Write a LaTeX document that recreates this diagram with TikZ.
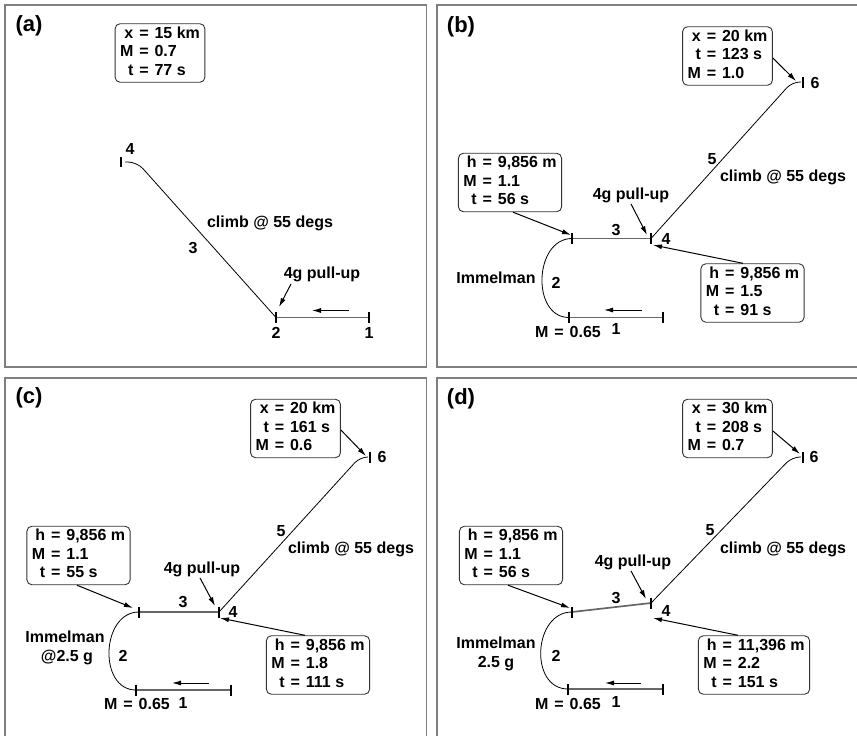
\documentclass[tikz,border=0pt]{standalone}
\usepackage{fontspec}
\setmainfont{Liberation Sans}
\usetikzlibrary{arrows.meta,calc}

% an equals sign with slightly wider spacing
\newcommand{\eqs}{\hspace{0.37em}=\hspace{0.37em}}
% three-line readouts, aligned on the equals sign
\newcommand{\readout}[1]{\begin{tabular}{@{}r@{\eqs}l@{}}#1\end{tabular}}

\tikzset{
  panel/.style={draw=black!50, line width=1.8pt},
  info/.style={draw=black!80, line width=0.9pt, rounded corners=5pt,
    inner xsep=5pt, inner ysep=1.5pt, fill=white,
    font=\bfseries\fontsize{16}{18.5}\selectfont},
  lbl/.style={inner sep=0pt, text height=11.5pt, text depth=0pt,
    font=\bfseries\fontsize{16}{18.5}\selectfont},
  tag/.style={inner sep=0pt, font=\bfseries\fontsize{22}{24}\selectfont},
  flight/.style={line width=0.8pt},
  leg/.style={line width=1.7pt, draw=black!60},
  tickmark/.style={line width=1.5pt},
  note/.style={line width=1pt, -{Latex[length=9pt,width=5pt]}},
}
\newcommand{\tickat}[1]{\draw[tickmark] (#1) ++(0,-5.5) -- ++(0,11);}

\begin{document}
\begin{tikzpicture}[x=1pt,y=-1pt]
\useasboundingbox (0,0) rectangle (857,736);

% ---------- frames ----------
\draw[panel] (5,5) rectangle (426.5,367);
\draw[panel] (437,5) rectangle (875,367);
\draw[panel] (5,378) rectangle (426.5,760);
\draw[panel] (437,378) rectangle (875,760);

% ================= (a) =================
\node[tag] (ta) at (29,26) {(a)};
\node[info] (aT) at (160,53) {\readout{x & 15 km\\ M & 0.7\\ t & 77 s}};
\coordinate (a1) at (369,317.5);
\coordinate (a2) at (276,317.5);
\coordinate (a4) at (121,162);
\coordinate (a4s) at (125,162);
\coordinate (a4c) at (137,162);
\draw[leg] (a2) -- (a1);
\tickat{a1}\tickat{a2}
\draw[tickmark] (a4) ++(0,-5) -- ++(0,10);
\draw[flight, rounded corners=9pt] (a4s) -- (a4c) -- (a2);
\coordinate (aDs) at (349,310.5);
\coordinate (aDe) at (312,310.5);
\draw[note] (aDs) -- (aDe);
\node[lbl] (aL4) at (130,149) {4};
\node[lbl] (aL3) at (193,248) {3};
\node[lbl] (aCl) at (270,222) {climb @ 55 degs};
\node[lbl] (aPu) at (322,273) {4g pull-up};
\node[lbl] (aL2) at (276,333) {2};
\node[lbl] (aL1) at (369,333) {1};
\coordinate (aPt) at (279,307);
\draw[note] ([xshift=-31pt,yshift=-5pt]aPu.south) -- (aPt);

% ================= (b) =================
\node[tag] (tb) at (461,27) {(b)};
\coordinate (b1) at (663,317.5);
\coordinate (b2) at (569,317.5);
\coordinate (b3) at (572,238.5);
\coordinate (b4) at (651,238.5);
\coordinate (b6) at (803,82);
\coordinate (b6c) at (792,82);
\coordinate (b6e) at (801,82);
\draw[leg] (b2) -- (b1);
\draw[leg] (b3) -- (b4);
\tickat{b1}\tickat{b2}\tickat{b3}\tickat{b4}\tickat{b6}
\draw[flight] (b3) .. controls (534,238.5) and (531,317.5) .. (b2);
\draw[flight, rounded corners=8pt] (b4) -- (b6c) -- (b6e);
\coordinate (bDs) at (642,310);
\coordinate (bDe) at (604,310);
\draw[note] (bDs) -- (bDe);
\node[info] (bT) at (727.5,56) {\readout{x & 20 km\\ t & 123 s\\ M & 1.0}};
\node[info] (bL) at (510,182.5) {\readout{h & 9,856 m\\ M & 1.1\\ t & 56 s}};
\node[info] (bR) at (752.5,293) {\readout{h & 9,856 m\\ M & 1.5\\ t & 91 s}};
\node[lbl] (bL3) at (616,230) {3};
\node[lbl] (bL4) at (666,239) {4};
\node[lbl] (bL2) at (556,283) {2};
\node[lbl] (bIm) at (496,278) {Immelman};
\node[lbl] (bM) at (568,332) {M\eqs0.65};
\node[lbl] (bL1) at (616,329) {1};
\node[lbl] (bPu) at (631,194) {4g pull-up};
\node[lbl] (bL5) at (712,159) {5};
\node[lbl] (bCl) at (783,176) {climb @ 55 degs};
\node[lbl] (bL6) at (815,83) {6};
\coordinate (bTt) at (796,81);
\coordinate (bLt) at (571,235);
\coordinate (bPt) at (647,235);
\coordinate (bRt) at (653,245);
\draw[note] ([yshift=-2pt]bT.east) -- (bTt);
\draw[note] ([xshift=3pt]bL.south) -- (bLt);
\draw[note] ([yshift=-4pt]bPu.south) -- (bPt);
\draw[note] ([xshift=-9.5pt]bR.north) -- (bRt);

% ================= (c) =================
\node[tag] (tc) at (29,398) {(c)};
\coordinate (c1) at (231,690);
\coordinate (c2) at (136,690);
\coordinate (c3) at (139,612);
\coordinate (c4) at (219,612);
\coordinate (c6) at (370,457);
\coordinate (c6c) at (360,457);
\coordinate (c6e) at (368,457);
\draw[leg] (c2) -- (c1);
\draw[leg] (c3) -- (c4);
\tickat{c1}\tickat{c2}\tickat{c3}\tickat{c4}\tickat{c6}
\draw[flight] (c3) .. controls (101,612) and (98,690) .. (c2);
\draw[flight, rounded corners=8pt] (c4) -- (c6c) -- (c6e);
\coordinate (cDs) at (209,683);
\coordinate (cDe) at (172,683);
\draw[note] (cDs) -- (cDe);
\node[info] (cT) at (295.5,428.5) {\readout{x & 20 km\\ t & 161 s\\ M & 0.6}};
\node[info] (cL) at (78.5,555.5) {\readout{h & 9,856 m\\ M & 1.1\\ t & 55 s}};
\node[info] (cR) at (318,665) {\readout{h & 9,856 m\\ M & 1.8\\ t & 111 s}};
\node[lbl] (cL3) at (183,602) {3};
\node[lbl] (cL4) at (233,612) {4};
\node[lbl] (cL2) at (123,656) {2};
\node[lbl] (cIm) at (65,637) {Immelman};
\node[lbl] (cG) at (67,656) {@2.5 g};
\node[lbl] (cM) at (137,704) {M\eqs0.65};
\node[lbl] (cL1) at (183,703) {1};
\node[lbl] (cPu) at (202,568) {4g pull-up};
\node[lbl] (cL5) at (281,531) {5};
\node[lbl] (cCl) at (351,548) {climb @ 55 degs};
\node[lbl] (cL6) at (382,457) {6};
\coordinate (cTt) at (366,456);
\coordinate (cLt) at (133,608);
\coordinate (cPt) at (215,606);
\coordinate (cRt) at (220,618);
\draw[note] ([yshift=-1.5pt]cT.east) -- (cTt);
\draw[note] ([xshift=-1.5pt]cL.south) -- (cLt);
\draw[note] ([xshift=-2pt,yshift=-4pt]cPu.south) -- (cPt);
\draw[note] ([xshift=-13pt]cR.north) -- (cRt);

% ================= (d) =================
\node[tag] (td) at (461,399) {(d)};
\coordinate (d1) at (663,689);
\coordinate (d2) at (568,689);
\coordinate (d3) at (572,612);
\coordinate (d4) at (651,603);
\coordinate (d6) at (803,457);
\coordinate (d6c) at (792,457);
\coordinate (d6e) at (801,457);
\draw[leg] (d2) -- (d1);
\draw[leg] (d3) -- (d4);
\tickat{d1}\tickat{d2}\tickat{d3}\tickat{d4}\tickat{d6}
\draw[flight] (d3) .. controls (533,612) and (529,689) .. (d2);
\draw[flight, rounded corners=8pt] (d4) -- (d6c) -- (d6e);
\coordinate (dDs) at (641,683);
\coordinate (dDe) at (605,683);
\draw[note] (dDs) -- (dDe);
\node[info] (dT) at (727.5,428.5) {\readout{x & 30 km\\ t & 208 s\\ M & 0.7}};
\node[info] (dL) at (511,555.5) {\readout{h & 9,856 m\\ M & 1.1\\ t & 56 s}};
\node[info] (dR) at (754,665) {\readout{h & 11,396 m\\ M & 2.2\\ t & 151 s}};
\node[lbl] (dL3) at (616,598) {3};
\node[lbl] (dL4) at (666,611) {4};
\node[lbl] (dL2) at (556,656) {2};
\node[lbl] (dIm) at (496,643) {Immelman};
\node[lbl] (dG) at (496,662) {2.5 g};
\node[lbl] (dM) at (568,704) {M\eqs0.65};
\node[lbl] (dL1) at (616,702) {1};
\node[lbl] (dPu) at (633,561) {4g pull-up};
\node[lbl] (dL5) at (710,530) {5};
\node[lbl] (dCl) at (783,548) {climb @ 55 degs};
\node[lbl] (dL6) at (814,457) {6};
\coordinate (dTt) at (800,454);
\coordinate (dLt) at (570,608);
\coordinate (dPt) at (646,599);
\coordinate (dRt) at (653,618);
\draw[note] ([yshift=-2.5pt]dT.east) -- (dTt);
\draw[note] ([xshift=-3pt]dL.south) -- (dLt);
\draw[note] ([xshift=-2pt,yshift=-4pt]dPu.south) -- (dPt);
\draw[note] ([xshift=-16pt]dR.north) -- (dRt);
\end{tikzpicture}
\end{document}
